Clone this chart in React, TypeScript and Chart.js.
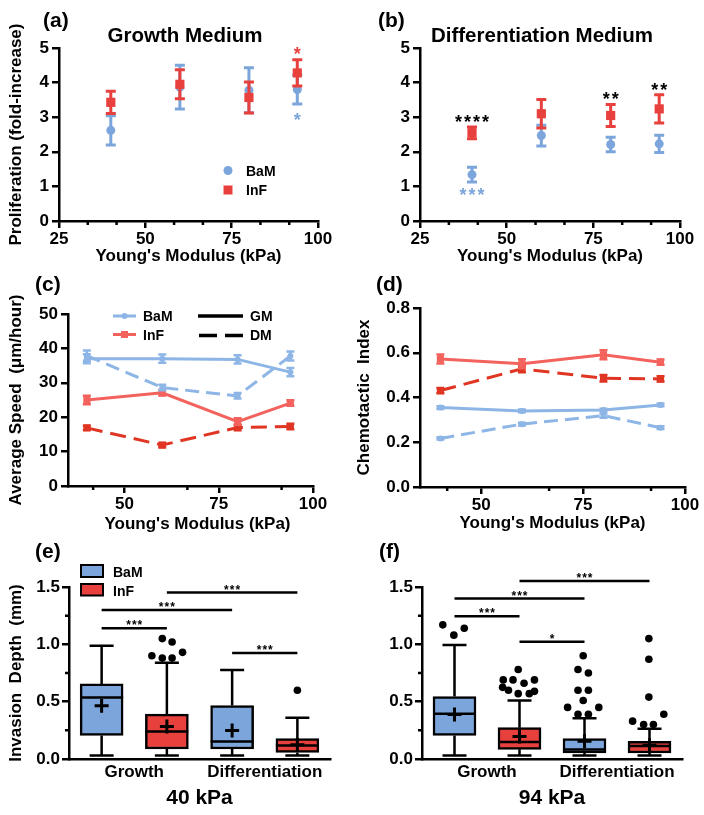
import React, { useEffect, useRef } from 'react';
import { Chart, registerables } from 'chart.js';

Chart.register(...registerables);

const FONT = "'Liberation Sans', Arial, Helvetica, sans-serif";
Chart.defaults.font.family = FONT;

// ---------------- data ----------------
const modulus = [40, 60, 80, 94];
const modulusTicksAB = [25, 50, 75, 100];
const modulusMinorAB = [33.33, 41.67, 58.33, 66.67, 83.33, 91.67];
const modulusTicksCD = [50, 75, 100];
const modulusMinorCD = [41.67, 66.67, 91.67];

// (a) proliferation, growth medium
const profGmBaM = [2.62, 3.87, 3.78, 3.8];
const profGmBaMErr = [0.42, 0.63, 0.65, 0.42];
const profGmInF = [3.43, 3.95, 3.57, 4.28];
const profGmInFErr = [0.32, 0.42, 0.45, 0.38];

// (b) proliferation, differentiation medium
const profDmBaM = [1.34, 2.47, 2.21, 2.23];
const profDmBaMErr = [0.21, 0.3, 0.21, 0.25];
const profDmInF = [2.55, 3.1, 3.05, 3.24];
const profDmInFErr = [0.17, 0.41, 0.32, 0.41];

// (c) average speed (um/hour)
const speedBaMGM = [37.0, 37.0, 36.8, 33.1];
const speedBaMGMErr = [1.3, 1.2, 1.2, 1.2];
const speedBaMDM = [37.9, 28.6, 26.2, 37.8];
const speedBaMDMErr = [1.5, 0.8, 0.8, 1.3];
const speedInFGM = [25.0, 27.1, 18.7, 24.1];
const speedInFGMErr = [1.2, 0.8, 1.0, 0.8];
const speedInFDM = [16.9, 11.9, 17.0, 17.3];
const speedInFDMErr = [0.6, 0.6, 0.8, 0.8];

// (d) chemotactic index
const ciBaMGM = [0.355, 0.34, 0.344, 0.367];
const ciBaMGMErr = [0.006, 0.006, 0.006, 0.006];
const ciBaMDM = [0.217, 0.281, 0.319, 0.265];
const ciBaMDMErr = [0.005, 0.006, 0.01, 0.006];
const ciInFGM = [0.572, 0.551, 0.591, 0.558];
const ciInFGMErr = [0.02, 0.02, 0.02, 0.012];
const ciInFDM = [0.431, 0.528, 0.486, 0.483];
const ciInFDMErr = [0.012, 0.015, 0.015, 0.012];

// (e)/(f) invasion depth box plots; order: BaM-Growth, InF-Growth, BaM-Diff, InF-Diff
const boxSlots = [0.5, 1.5, 2.5, 3.5];
const mediumTicks = [1, 3];
const mediumNames = ['Growth', 'Differentiation'];

const inv40Min = [0.03, 0.03, 0.03, 0.03];
const inv40Q1 = [0.205, 0.087, 0.087, 0.057];
const inv40Median = [0.536, 0.24, 0.153, 0.118];
const inv40Q3 = [0.655, 0.391, 0.466, 0.177];
const inv40Max = [0.988, 0.84, 0.777, 0.36];
const inv40Mean = [0.464, 0.284, 0.249, 0.125];
const inv40OutX = [1.27, 1.43, 1.58, 1.74, 1.43, 1.58, 3.5];
const inv40OutY = [0.9, 0.88, 0.88, 0.93, 1.05, 1.02, 0.6];
const sig40From = [0.5, 0.5, 1.5, 2.5];
const sig40To = [1.5, 2.5, 3.5, 3.5];
const sig40Y = [1.14, 1.3, 1.452, 0.925];
const sig40Text = ['***', '***', '***', '***'];

const inv94Min = [0.03, 0.03, 0.03, 0.03];
const inv94Q1 = [0.206, 0.084, 0.052, 0.052];
const inv94Median = [0.394, 0.148, 0.082, 0.113];
const inv94Q3 = [0.545, 0.273, 0.177, 0.154];
const inv94Max = [0.994, 0.51, 0.356, 0.264];
const inv94Mean = [0.388, 0.197, 0.154, 0.12];
const inv94OutX = [
  0.32, 0.49, 0.65,
  1.48, 1.25, 1.4, 1.73, 1.57, 1.24, 1.33, 1.48, 1.65, 1.73,
  2.48, 2.4, 2.56, 2.4, 2.56, 2.48, 2.24, 2.72, 2.4, 2.56,
  3.49, 3.49, 3.49, 3.24, 3.41, 3.56, 3.72,
];
const inv94OutY = [
  1.17, 1.08, 1.14,
  0.78, 0.69, 0.69, 0.69, 0.66, 0.625, 0.6, 0.57, 0.57, 0.59,
  0.9, 0.78, 0.75, 0.6, 0.6, 0.51, 0.45, 0.45, 0.39, 0.39,
  1.05, 0.87, 0.54, 0.33, 0.3, 0.3, 0.39,
];
const sig94From = [0.5, 0.5, 1.5, 1.5];
const sig94To = [1.5, 2.5, 3.5, 2.5];
const sig94Y = [1.246, 1.399, 1.553, 1.023];
const sig94Text = ['***', '***', '***', '*'];

// ---------------- styles ----------------
const BLUE = '#7ca6db';
const RED = '#e8413d';
const LBLUE = '#8db5e6';
const LRED = '#f3625d';
const DRED = '#df3522';

const tickFont = { family: FONT, size: 17, weight: 'bold' };
const tFont = (size: number) => ({ family: FONT, size, weight: 'bold' });

function grid(tickLength: number, drawTicks = true) {
  return {
    display: true,
    drawOnChartArea: false,
    drawTicks,
    tickLength,
    tickWidth: 2.5,
    tickColor: '#000',
    color: '#000',
    lineWidth: 2.5,
    offset: false,
  };
}
const border = { display: true, color: '#000', width: 2.5 };
const fixY = (w: number) => (s: any) => {
  s.width = w;
  s.paddingTop = 0;
  s.paddingBottom = 0;
};
const fixX = (h: number) => (s: any) => {
  s.height = h;
  s.paddingLeft = 0;
  s.paddingRight = 0;
};
const setTicks = (values: number[]) => (s: any) => {
  s.ticks = values.map((v) => ({ value: v }));
};

// ---------------- plugins ----------------
function textsPlugin(id: string, items: any[]) {
  return {
    id,
    afterDraw(chart: any) {
      const ctx = chart.ctx;
      ctx.save();
      for (const it of items) {
        ctx.font = `bold ${it.size || 17}px ${FONT}`;
        ctx.fillStyle = it.color || '#000';
        ctx.textAlign = it.align || 'left';
        ctx.textBaseline = 'alphabetic';
        ctx.fillText(it.t, it.x, it.y);
      }
      ctx.restore();
    },
  };
}

function starsPlugin(id: string, items: any[]) {
  return {
    id,
    afterDraw(chart: any) {
      const { ctx } = chart;
      const xs = chart.scales.x;
      const ys = chart.scales.y;
      ctx.save();
      for (const it of items) {
        const size = it.size || 18;
        const sp = it.spacing ?? 2;
        ctx.font = `bold ${size}px ${FONT}`;
        ctx.fillStyle = it.color || '#000';
        ctx.textAlign = 'center';
        ctx.textBaseline = 'alphabetic';
        ctx.letterSpacing = sp + 'px';
        ctx.fillText(it.t, xs.getPixelForValue(it.x) + sp / 2, ys.getPixelForValue(it.y) + size * 0.57);
      }
      ctx.letterSpacing = '0px';
      ctx.restore();
    },
  };
}

function errorPlugin(id: string, specs: any[]) {
  return {
    id,
    beforeDatasetDraw(chart: any, args: any) {
      const { ctx } = chart;
      const xs = chart.scales.x;
      const ys = chart.scales.y;
      for (const s of specs) {
        if (s.ds !== args.index) continue;
        ctx.save();
        ctx.strokeStyle = s.color;
        ctx.lineWidth = s.width;
        ctx.beginPath();
        s.xs.forEach((xv: number, i: number) => {
          const px = xs.getPixelForValue(xv);
          const t = ys.getPixelForValue(s.ys[i] + s.err[i]);
          const b = ys.getPixelForValue(s.ys[i] - s.err[i]);
          ctx.moveTo(px, t);
          ctx.lineTo(px, b);
          ctx.moveTo(px - s.cap, t);
          ctx.lineTo(px + s.cap, t);
          ctx.moveTo(px - s.cap, b);
          ctx.lineTo(px + s.cap, b);
        });
        ctx.stroke();
        ctx.restore();
      }
    },
  };
}

function minorPlugin(id: string, axis: 'x' | 'y', values: number[], len: number) {
  return {
    id,
    afterDraw(chart: any) {
      const s = chart.scales[axis];
      const a = chart.chartArea;
      const ctx = chart.ctx;
      ctx.save();
      ctx.strokeStyle = '#000';
      ctx.lineWidth = 2.5;
      ctx.beginPath();
      for (const v of values) {
        const p = s.getPixelForValue(v);
        if (axis === 'x') {
          ctx.moveTo(p, a.bottom);
          ctx.lineTo(p, a.bottom + len);
        } else {
          ctx.moveTo(a.left, p);
          ctx.lineTo(a.left - len, p);
        }
      }
      ctx.stroke();
      ctx.restore();
    },
  };
}

function boxPlugin(id: string, st: any) {
  return {
    id,
    beforeDatasetsDraw(chart: any) {
      const { ctx } = chart;
      const xs = chart.scales.x;
      const ys = chart.scales.y;
      const cap = 12;
      ctx.save();
      ctx.strokeStyle = '#000';
      ctx.lineWidth = 2.5;
      ctx.beginPath();
      boxSlots.forEach((xv, i) => {
        const px = xs.getPixelForValue(xv);
        const pMax = ys.getPixelForValue(st.max[i]);
        const pMin = ys.getPixelForValue(st.min[i]);
        const pQ3 = ys.getPixelForValue(st.q3[i]);
        const pQ1 = ys.getPixelForValue(st.q1[i]);
        ctx.moveTo(px, pQ3);
        ctx.lineTo(px, pMax);
        ctx.moveTo(px - cap, pMax);
        ctx.lineTo(px + cap, pMax);
        ctx.moveTo(px, pQ1);
        ctx.lineTo(px, pMin);
        ctx.moveTo(px - cap, pMin);
        ctx.lineTo(px + cap, pMin);
      });
      ctx.stroke();
      ctx.restore();
    },
    afterDatasetsDraw(chart: any) {
      const { ctx } = chart;
      const ys = chart.scales.y;
      const meta = chart.getDatasetMeta(0);
      ctx.save();
      ctx.strokeStyle = '#000';
      ctx.lineWidth = 2.5;
      ctx.beginPath();
      meta.data.forEach((el: any, i: number) => {
        const half = el.width / 2;
        const pm = ys.getPixelForValue(st.med[i]);
        ctx.moveTo(el.x - half, pm);
        ctx.lineTo(el.x + half, pm);
      });
      ctx.stroke();
      ctx.lineWidth = 3;
      ctx.beginPath();
      meta.data.forEach((el: any, i: number) => {
        const pm = ys.getPixelForValue(st.mean[i]);
        ctx.moveTo(el.x - 7, pm);
        ctx.lineTo(el.x + 7, pm);
        ctx.moveTo(el.x, pm - 7);
        ctx.lineTo(el.x, pm + 7);
      });
      ctx.stroke();
      ctx.restore();
    },
  };
}

function bracketPlugin(id: string, from: number[], to: number[], yv: number[], labels: string[]) {
  return {
    id,
    afterDraw(chart: any) {
      const { ctx } = chart;
      const xs = chart.scales.x;
      const ys = chart.scales.y;
      ctx.save();
      ctx.strokeStyle = '#000';
      ctx.fillStyle = '#000';
      ctx.lineWidth = 2.5;
      ctx.font = `bold 12px ${FONT}`;
      ctx.textAlign = 'center';
      ctx.textBaseline = 'alphabetic';
      ctx.letterSpacing = '1px';
      from.forEach((f, i) => {
        const x1 = xs.getPixelForValue(f);
        const x2 = xs.getPixelForValue(to[i]);
        const py = ys.getPixelForValue(yv[i]);
        ctx.beginPath();
        ctx.moveTo(x1, py);
        ctx.lineTo(x2, py);
        ctx.stroke();
        ctx.fillText(labels[i], (x1 + x2) / 2 + 0.5, py + 1);
      });
      ctx.letterSpacing = '0px';
      ctx.restore();
    },
  };
}

function shapesPlugin(id: string, draw: (ctx: CanvasRenderingContext2D) => void) {
  return {
    id,
    afterDraw(chart: any) {
      const ctx = chart.ctx;
      ctx.save();
      draw(ctx);
      ctx.restore();
    },
  };
}

function legendText(ctx: CanvasRenderingContext2D, t: string, x: number, y: number, size = 14) {
  ctx.font = `bold ${size}px ${FONT}`;
  ctx.fillStyle = '#000';
  ctx.textAlign = 'left';
  ctx.textBaseline = 'alphabetic';
  ctx.fillText(t, x, y);
}

// ---------------- configs ----------------
const baseOpts = (padTop: number, padRight: number) => ({
  responsive: false,
  animation: false,
  events: [],
  layout: { padding: { left: 0, top: padTop, right: padRight, bottom: 0 } },
  plugins: { legend: { display: false }, tooltip: { enabled: false }, title: { display: false } },
});

function prolifConfig(p: any) {
  return {
    type: 'scatter',
    data: {
      datasets: [
        {
          label: 'InF',
          data: modulus.map((x, i) => ({ x, y: p.inF[i] })),
          pointStyle: 'rect',
          pointRadius: 6.5,
          backgroundColor: RED,
          borderColor: RED,
          borderWidth: 0,
          order: 1,
        },
        {
          label: 'BaM',
          data: modulus.map((x, i) => ({ x, y: p.baM[i] })),
          pointStyle: 'circle',
          pointRadius: 4.5,
          backgroundColor: BLUE,
          borderColor: BLUE,
          borderWidth: 0,
          order: 2,
        },
      ],
    },
    options: {
      ...baseOpts(48, p.padRight),
      scales: {
        x: {
          type: 'linear',
          min: 25,
          max: 100,
          afterBuildTicks: setTicks(modulusTicksAB),
          ticks: { font: tickFont, color: '#000', padding: 1, autoSkip: false, maxRotation: 0 },
          grid: grid(7),
          border,
          afterFit: fixX(44),
          title: {
            display: true,
            text: "Young's Modulus (kPa)",
            font: tFont(17),
            color: '#000',
            padding: { top: 0, bottom: -2 },
          },
        },
        y: {
          type: 'linear',
          min: 0,
          max: 5,
          ticks: { stepSize: 1, font: tickFont, color: '#000', padding: 3 },
          grid: grid(7),
          border,
          afterFit: fixY(p.yWidth),
          title: p.yTitle
            ? { display: true, text: p.yTitle, font: tFont(17), color: '#000', padding: { top: 6, bottom: 0 } }
            : { display: false },
        },
      },
    },
    plugins: [
      errorPlugin('err', [
        { ds: 0, xs: modulus, ys: p.inF, err: p.inFErr, color: RED, cap: 5, width: 3 },
        { ds: 1, xs: modulus, ys: p.baM, err: p.baMErr, color: BLUE, cap: 5, width: 3 },
      ]),
      minorPlugin('minorx', 'x', modulusMinorAB, 4),
      starsPlugin('stars', p.stars),
      textsPlugin('texts', p.texts),
      ...(p.legend ? [p.legend] : []),
    ],
  };
}

function lineDs(label: string, ys: number[], color: string, dash: number[], style: string, radius: number) {
  return {
    label,
    data: modulus.map((x, i) => ({ x, y: ys[i] })),
    borderColor: color,
    backgroundColor: color,
    borderWidth: 3,
    borderDash: dash,
    pointStyle: style,
    pointRadius: radius,
    pointBorderWidth: 0,
    pointBackgroundColor: color,
    tension: 0,
    fill: false,
  };
}

function migrationConfig(p: any) {
  return {
    type: 'line',
    data: {
      datasets: [
        lineDs('BaM GM', p.bg, LBLUE, [], 'circle', 3),
        lineDs('BaM DM', p.bd, LBLUE, [14, 7], 'circle', 3),
        lineDs('InF GM', p.ig, LRED, [], 'rect', 5),
        lineDs('InF DM', p.id, DRED, [16, 8], 'rect', 5),
      ],
    },
    options: {
      ...baseOpts(p.padTop, p.padRight),
      scales: {
        x: {
          type: 'linear',
          min: 35,
          max: 100,
          afterBuildTicks: setTicks(modulusTicksCD),
          ticks: { font: tickFont, color: '#000', padding: 1, autoSkip: false, maxRotation: 0 },
          grid: grid(7),
          border,
          afterFit: fixX(p.xH),
          title: p.xTitle
            ? { display: true, text: "Young's Modulus (kPa)", font: tFont(17), color: '#000', padding: { top: 0, bottom: 1 } }
            : { display: false },
        },
        y: {
          type: 'linear',
          min: 0,
          max: p.yMax,
          ticks: {
            stepSize: p.yStep,
            font: tickFont,
            color: '#000',
            padding: 3,
            callback: (v: number) => (p.yDigits ? Number(v).toFixed(p.yDigits) : String(Math.round(v))),
          },
          grid: grid(7),
          border,
          afterFit: fixY(68),
          title: { display: true, text: p.yTitle, font: tFont(17), color: '#000', padding: { top: p.yTitlePad, bottom: 0 } },
        },
      },
    },
    plugins: [
      errorPlugin('err', [
        { ds: 0, xs: modulus, ys: p.bg, err: p.bgE, color: LBLUE, cap: 4, width: 2.5 },
        { ds: 1, xs: modulus, ys: p.bd, err: p.bdE, color: LBLUE, cap: 4, width: 2.5 },
        { ds: 2, xs: modulus, ys: p.ig, err: p.igE, color: LRED, cap: 4, width: 2.5 },
        { ds: 3, xs: modulus, ys: p.id, err: p.idE, color: DRED, cap: 4, width: 2.5 },
      ]),
      minorPlugin('minorx', 'x', modulusMinorCD, 4),
      textsPlugin('texts', p.texts),
      ...(p.legend ? [p.legend] : []),
    ],
  };
}

function boxConfig(p: any) {
  return {
    type: 'bar',
    data: {
      datasets: [
        {
          type: 'bar',
          label: 'box',
          data: boxSlots.map((x, i) => ({ x, y: [p.q1[i], p.q3[i]] })),
          backgroundColor: [BLUE, RED, BLUE, RED],
          borderColor: '#000',
          borderWidth: 2.5,
          borderSkipped: false,
          barThickness: 43,
          order: 2,
        },
        {
          type: 'scatter',
          label: 'outliers',
          data: p.outX.map((x: number, i: number) => ({ x, y: p.outY[i] })),
          pointRadius: 3.8,
          pointBorderWidth: 0,
          backgroundColor: '#000',
          borderColor: '#000',
          showLine: false,
          order: 1,
        },
      ],
    },
    options: {
      ...baseOpts(57, 22),
      scales: {
        x: {
          type: 'linear',
          min: 0,
          max: 4,
          offset: false,
          afterBuildTicks: setTicks(mediumTicks),
          ticks: {
            font: tickFont,
            color: '#000',
            padding: 3,
            autoSkip: false,
            maxRotation: 0,
            callback: (_v: number, i: number) => mediumNames[i],
          },
          grid: grid(0, false),
          border,
          afterFit: fixX(56),
          title: { display: true, text: p.xTitle, font: tFont(21), color: '#000', padding: { top: 0, bottom: 4.5 } },
        },
        y: {
          type: 'linear',
          min: 0,
          max: 1.5,
          ticks: { stepSize: 0.5, font: tickFont, color: '#000', padding: 2, callback: (v: number) => Number(v).toFixed(1) },
          grid: grid(7),
          border,
          afterFit: fixY(p.yWidth),
          title: p.yTitle
            ? { display: true, text: p.yTitle, font: tFont(17), color: '#000', padding: { top: 6, bottom: 0 } }
            : { display: false },
        },
      },
    },
    plugins: [
      boxPlugin('boxes', { min: p.min, q1: p.q1, med: p.med, q3: p.q3, max: p.max, mean: p.mean }),
      minorPlugin('minory', 'y', [0.25, 0.75, 1.25], 4),
      bracketPlugin('brackets', p.sFrom, p.sTo, p.sY, p.sText),
      textsPlugin('texts', p.texts),
      ...(p.legend ? [p.legend] : []),
    ],
  };
}

// ---------------- legends ----------------
const legendA = shapesPlugin('legendA', (ctx) => {
  ctx.fillStyle = BLUE;
  ctx.beginPath();
  ctx.arc(228, 170.5, 4.5, 0, Math.PI * 2);
  ctx.fill();
  ctx.fillStyle = RED;
  ctx.fillRect(223.5, 185.5, 9, 9);
  legendText(ctx, 'BaM', 246, 175.5);
  legendText(ctx, 'InF', 246, 195);
});

const legendC = shapesPlugin('legendC', (ctx) => {
  ctx.lineWidth = 3;
  ctx.strokeStyle = LBLUE;
  ctx.beginPath();
  ctx.moveTo(113, 51);
  ctx.lineTo(136, 51);
  ctx.stroke();
  ctx.fillStyle = LBLUE;
  ctx.beginPath();
  ctx.arc(124.5, 51, 3, 0, Math.PI * 2);
  ctx.fill();
  ctx.strokeStyle = LRED;
  ctx.beginPath();
  ctx.moveTo(113, 69.5);
  ctx.lineTo(136, 69.5);
  ctx.stroke();
  ctx.fillStyle = LRED;
  ctx.fillRect(121, 66, 7, 7);
  ctx.strokeStyle = '#000';
  ctx.lineWidth = 3.5;
  ctx.beginPath();
  ctx.moveTo(198, 51);
  ctx.lineTo(243, 51);
  ctx.moveTo(199, 70.5);
  ctx.lineTo(217, 70.5);
  ctx.moveTo(225, 70.5);
  ctx.lineTo(243, 70.5);
  ctx.stroke();
  legendText(ctx, 'BaM', 143, 56);
  legendText(ctx, 'InF', 143, 75);
  legendText(ctx, 'GM', 250, 56);
  legendText(ctx, 'DM', 250, 75);
});

const legendE = shapesPlugin('legendE', (ctx) => {
  ctx.lineWidth = 2;
  ctx.strokeStyle = '#000';
  ctx.fillStyle = BLUE;
  ctx.fillRect(81, 35, 22, 12);
  ctx.strokeRect(81, 35, 22, 12);
  ctx.fillStyle = RED;
  ctx.fillRect(81, 54, 22, 11.5);
  ctx.strokeRect(81, 54, 22, 11.5);
  legendText(ctx, 'BaM', 113, 46.5);
  legendText(ctx, 'InF', 113, 65.5);
});

// ---------------- components ----------------
function Panel({ left, top, width, height, make }: { left: number; top: number; width: number; height: number; make: () => any }) {
  const ref = useRef<HTMLCanvasElement | null>(null);
  useEffect(() => {
    if (!ref.current) return;
    const chart = new Chart(ref.current, make());
    return () => chart.destroy();
  }, []);
  return (
    <div style={{ position: 'absolute', left, top, width, height }}>
      <canvas ref={ref} width={width} height={height} style={{ display: 'block', width, height }} />
    </div>
  );
}

export default function App() {
  return (
    <div style={{ position: 'absolute', left: 0, top: 0, width: 704, height: 815, background: '#fff', overflow: 'hidden' }}>
      <Panel
        left={0}
        top={0}
        width={352}
        height={265}
        make={() =>
          prolifConfig({
            baM: profGmBaM,
            baMErr: profGmBaMErr,
            inF: profGmInF,
            inFErr: profGmInFErr,
            padRight: 34,
            yWidth: 59,
            yTitle: 'Proliferation (fold-increase)',
            stars: [
              { t: '*', x: 94, y: 4.94, color: RED, size: 18, spacing: 0 },
              { t: '*', x: 94, y: 3.03, color: BLUE, size: 18, spacing: 0 },
            ],
            texts: [
              { t: '(a)', x: 43, y: 27, size: 21 },
              { t: 'Growth Medium', x: 185, y: 42, size: 20.5, align: 'center' },
            ],
            legend: legendA,
          })
        }
      />
      <Panel
        left={352}
        top={0}
        width={352}
        height={265}
        make={() =>
          prolifConfig({
            baM: profDmBaM,
            baMErr: profDmBaMErr,
            inF: profDmInF,
            inFErr: profDmInFErr,
            padRight: 24,
            yWidth: 68,
            yTitle: null,
            stars: [
              { t: '****', x: 40, y: 2.99, color: '#000', size: 18, spacing: 2 },
              { t: '***', x: 40, y: 0.865, color: BLUE, size: 18, spacing: 2 },
              { t: '**', x: 80, y: 3.65, color: '#000', size: 18, spacing: 2 },
              { t: '**', x: 94, y: 3.92, color: '#000', size: 18, spacing: 2 },
            ],
            texts: [
              { t: '(b)', x: 26, y: 27, size: 21 },
              { t: 'Differentiation Medium', x: 190, y: 42, size: 20.5, align: 'center' },
            ],
          })
        }
      />
      <Panel
        left={0}
        top={265}
        width={352}
        height={270}
        make={() =>
          migrationConfig({
            bg: speedBaMGM,
            bgE: speedBaMGMErr,
            bd: speedBaMDM,
            bdE: speedBaMDMErr,
            ig: speedInFGM,
            igE: speedInFGMErr,
            id: speedInFDM,
            idE: speedInFDMErr,
            padTop: 49,
            padRight: 39,
            xH: 49,
            xTitle: false,
            yMax: 50,
            yStep: 10,
            yDigits: 0,
            yTitle: 'Average Speed  (\u03bcm/hour)',
            yTitlePad: 6,
            texts: [
              { t: '(c)', x: 35, y: 26, size: 21 },
              { t: "Young's Modulus (kPa)", x: 197.5, y: 264, size: 17, align: 'center' },
            ],
            legend: legendC,
          })
        }
      />
      <Panel
        left={352}
        top={265}
        width={352}
        height={270}
        make={() =>
          migrationConfig({
            bg: ciBaMGM,
            bgE: ciBaMGMErr,
            bd: ciBaMDM,
            bdE: ciBaMDMErr,
            ig: ciInFGM,
            igE: ciInFGMErr,
            id: ciInFDM,
            idE: ciInFDMErr,
            padTop: 43,
            padRight: 19,
            xH: 48,
            xTitle: true,
            yMax: 0.8,
            yStep: 0.2,
            yDigits: 1,
            yTitle: 'Chemotactic  Index',
            yTitlePad: 2,
            texts: [{ t: '(d)', x: 24, y: 26, size: 21 }],
          })
        }
      />
      <Panel
        left={0}
        top={530}
        width={352}
        height={285}
        make={() =>
          boxConfig({
            min: inv40Min,
            q1: inv40Q1,
            med: inv40Median,
            q3: inv40Q3,
            max: inv40Max,
            mean: inv40Mean,
            outX: inv40OutX,
            outY: inv40OutY,
            sFrom: sig40From,
            sTo: sig40To,
            sY: sig40Y,
            sText: sig40Text,
            xTitle: '40 kPa',
            yTitle: 'Invasion  Depth  (mm)',
            yWidth: 69,
            texts: [{ t: '(e)', x: 35, y: 28, size: 21 }],
            legend: legendE,
          })
        }
      />
      <Panel
        left={352}
        top={530}
        width={352}
        height={285}
        make={() =>
          boxConfig({
            min: inv94Min,
            q1: inv94Q1,
            med: inv94Median,
            q3: inv94Q3,
            max: inv94Max,
            mean: inv94Mean,
            outX: inv94OutX,
            outY: inv94OutY,
            sFrom: sig94From,
            sTo: sig94To,
            sY: sig94Y,
            sText: sig94Text,
            xTitle: '94 kPa',
            yTitle: null,
            yWidth: 70,
            texts: [{ t: '(f)', x: 27, y: 28, size: 21 }],
          })
        }
      />
    </div>
  );
}
